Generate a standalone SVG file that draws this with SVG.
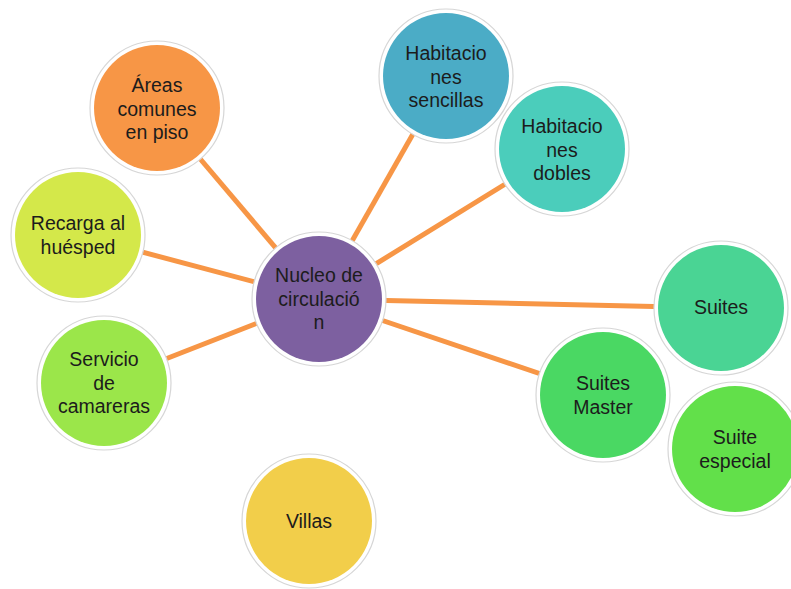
<svg xmlns="http://www.w3.org/2000/svg" width="791" height="589" viewBox="0 0 791 589">
<style>
.bg{fill:#ffffff}
.conn line{stroke:#F79646;stroke-width:5;stroke-linecap:butt}
.ring{fill:#ffffff;stroke:#d6d6d6;stroke-width:1.2}
text{font-family:"Liberation Sans",Arial,sans-serif;font-size:19.5px;fill:#1c1c1c;text-anchor:middle}
</style>
<rect class="bg" width="791" height="589"/>
<g id="connectors" class="conn">
<line x1="319" y1="299" x2="157" y2="108"/>
<line x1="319" y1="299" x2="446" y2="76"/>
<line x1="319" y1="299" x2="562" y2="149"/>
<line x1="319" y1="299" x2="78" y2="235"/>
<line x1="319" y1="299" x2="104" y2="383"/>
<line x1="319" y1="299" x2="721" y2="308"/>
<line x1="319" y1="299" x2="603" y2="395"/>
</g>
<g id="areas">
<circle class="ring" cx="157" cy="108" r="67"/>
<circle cx="157" cy="108" r="63" fill="#F79646"/>
<text x="157" y="92">Áreas</text><text x="157" y="115.5">comunes</text><text x="157" y="139">en piso</text>
</g>
<g id="sencillas">
<circle class="ring" cx="446" cy="76" r="67"/>
<circle cx="446" cy="76" r="63" fill="#4BACC6"/>
<text x="446" y="60">Habitacio</text><text x="446" y="83.5">nes</text><text x="446" y="107">sencillas</text>
</g>
<g id="dobles">
<circle class="ring" cx="562" cy="149" r="67"/>
<circle cx="562" cy="149" r="63" fill="#4BCDBB"/>
<text x="562" y="133">Habitacio</text><text x="562" y="156.5">nes</text><text x="562" y="180">dobles</text>
</g>
<g id="recarga">
<circle class="ring" cx="78" cy="235" r="67"/>
<circle cx="78" cy="235" r="63" fill="#D4E84A"/>
<text x="78" y="230">Recarga al</text><text x="78" y="253.5">huésped</text>
</g>
<g id="servicio">
<circle class="ring" cx="104" cy="383" r="67"/>
<circle cx="104" cy="383" r="63" fill="#9BE64A"/>
<text x="104" y="366">Servicio</text><text x="104" y="389.5">de</text><text x="104" y="413">camareras</text>
</g>
<g id="nucleo">
<circle class="ring" cx="319" cy="299" r="67"/>
<circle cx="319" cy="299" r="63" fill="#7D60A0"/>
<text x="319" y="282">Nucleo de</text><text x="319" y="305.5">circulació</text><text x="319" y="329">n</text>
</g>
<g id="suites">
<circle class="ring" cx="721" cy="308" r="67"/>
<circle cx="721" cy="308" r="63" fill="#4AD494"/>
<text x="721" y="314">Suites</text>
</g>
<g id="master">
<circle class="ring" cx="603" cy="395" r="67"/>
<circle cx="603" cy="395" r="63" fill="#4AD863"/>
<text x="603" y="390">Suites</text><text x="603" y="413.5">Master</text>
</g>
<g id="especial">
<circle class="ring" cx="735" cy="449" r="67"/>
<circle cx="735" cy="449" r="63" fill="#62E04A"/>
<text x="735" y="444">Suite</text><text x="735" y="467.5">especial</text>
</g>
<g id="villas">
<circle class="ring" cx="309" cy="521" r="67"/>
<circle cx="309" cy="521" r="63" fill="#F2CE4A"/>
<text x="309" y="528">Villas</text>
</g>
</svg>
